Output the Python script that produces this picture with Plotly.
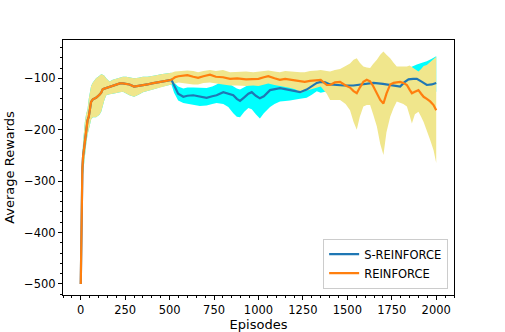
import plotly.graph_objects as go

# Shared early segment (both methods identical up to ~510 episodes)
EARLY_EP = [0, 2, 4, 6, 9, 13, 17, 23, 30, 38, 45, 52, 58, 68, 86, 105, 115, 124, 133, 143,
            162, 180, 199, 220, 237, 256, 274, 300, 325, 350, 375, 400, 425, 450, 480, 510]
EARLY_MEAN = [-500, -420, -360, -310, -275, -252, -240, -215, -195, -182, -175, -162, -146, -141,
              -138, -132, -128, -121, -120, -119, -117, -116, -113, -110, -110, -111, -112, -116,
              -115, -114, -112, -110, -108, -107, -105, -103]
EARLY_LO = [-500, -440, -390, -340, -305, -285, -270, -250, -230, -210, -200, -190, -180, -176,
            -176, -171, -165, -155, -142, -133, -131, -130, -129, -127, -126, -129, -133, -136,
            -132, -127, -125, -122, -120, -117, -114, -112]
EARLY_HI = [-500, -400, -330, -285, -250, -225, -205, -185, -170, -160, -140, -125, -115, -108,
            -100, -95, -92, -93, -95, -100, -106, -103, -101, -98, -97, -97, -98, -100,
            -99, -97, -97, -96, -94, -92, -91, -89]

# REINFORCE after the split
RF_EP = [530, 550, 575, 600, 633, 660, 690, 727, 760, 800, 840, 880, 930, 970, 1000, 1030, 1055,
         1090, 1120, 1150, 1180, 1210, 1235, 1260, 1290, 1330, 1350, 1384, 1403, 1430, 1459, 1490,
         1515, 1535, 1553, 1570, 1590, 1609, 1628, 1645, 1666, 1685, 1703, 1720, 1741, 1760, 1778,
         1797, 1815, 1835, 1850, 1863, 1880, 1900, 1915, 1929, 1947, 1966, 1985, 2000]
RF_MEAN = [-98, -96, -95, -94, -97, -99, -96, -93, -97, -98, -101, -100, -102, -101, -101, -98, -96,
           -100, -103, -101, -103, -104, -106, -107, -105, -104, -103, -113, -113, -108, -107, -114,
           -118, -125, -129, -118, -107, -103, -106, -115, -129, -142, -149, -130, -112, -109, -108,
           -107, -109, -113, -122, -129, -126, -123, -130, -136, -140, -145, -152, -162]
RF_LO = [-110, -108, -109, -110, -112, -112, -109, -108, -110, -112, -114, -114, -115, -114, -115,
         -112, -110, -113, -116, -117, -119, -122, -129, -125, -122, -118, -116, -130, -142, -142,
         -142, -150, -162, -185, -200, -175, -155, -152, -152, -170, -194, -228, -249, -205, -175,
         -158, -145, -148, -150, -155, -172, -188, -170, -165, -175, -185, -200, -220, -240, -265]
RF_HI = [-87, -86, -85, -85, -86, -88, -86, -84, -86, -84, -88, -87, -87, -88, -87, -86, -85, -87,
         -88, -86, -87, -87, -88, -88, -86, -85, -84, -86, -87, -84, -82, -76, -71, -64, -61, -70,
         -77, -79, -80, -72, -64, -54, -48, -54, -61, -70, -77, -77, -77, -77, -75, -78, -82, -87,
         -82, -76, -74, -68, -63, -58]

# S-REINFORCE after the split
SR_EP = [525, 548, 577, 600, 633, 670, 708, 740, 764, 802, 830, 858, 878, 896, 920, 943, 962, 985,
         1008, 1030, 1065, 1090, 1121, 1150, 1177, 1205, 1234, 1271, 1300, 1328, 1350, 1375, 1403,
         1440, 1480, 1534, 1580, 1609, 1647, 1700, 1750, 1797, 1820, 1844, 1870, 1891, 1920, 1947,
         1975, 2000]
SR_MEAN = [-115, -130, -136, -134, -133, -135, -138, -135, -133, -127, -130, -133, -140, -144, -137,
           -130, -127, -134, -139, -135, -123, -121, -119, -121, -123, -125, -127, -122, -115, -109,
           -107, -108, -112, -113, -114, -114, -112, -110, -109, -111, -113, -116, -108, -102, -101,
           -101, -107, -113, -112, -109]
SR_LO = [-128, -143, -148, -150, -152, -154, -153, -150, -148, -150, -156, -168, -175, -176, -165,
         -158, -160, -170, -178, -168, -156, -150, -145, -144, -143, -142, -140, -138, -132, -125,
         -128, -126, -130, -130, -132, -135, -130, -127, -130, -132, -135, -138, -132, -128, -126,
         -125, -126, -128, -128, -126]
SR_HI = [-108, -116, -120, -118, -118, -118, -119, -116, -112, -104, -110, -116, -120, -122, -118,
         -113, -112, -110, -112, -109, -105, -104, -104, -105, -106, -106, -104, -100, -96, -91,
         -92, -95, -97, -98, -98, -96, -95, -94, -92, -93, -92, -88, -84, -80, -76, -73, -70, -67,
         -62, -57]

X_TICKS = [0, 250, 500, 750, 1000, 1250, 1500, 1750, 2000]
Y_TICKS = [-500, -400, -300, -200, -100]

BLUE = "#1f77b4"
ORANGE = "#ff7f0e"
CYAN = "#00ffff"
KHAKI = "#f0e68c"

sr_ep = EARLY_EP + SR_EP
sr_mean = EARLY_MEAN + SR_MEAN
sr_lo = EARLY_LO + SR_LO
sr_hi = EARLY_HI + SR_HI
rf_ep = EARLY_EP + RF_EP
rf_mean = EARLY_MEAN + RF_MEAN
rf_lo = EARLY_LO + RF_LO
rf_hi = EARLY_HI + RF_HI

fig = go.Figure()
fig.add_trace(go.Scatter(x=sr_ep + sr_ep[::-1], y=sr_hi + sr_lo[::-1], fill="toself",
                         fillcolor=CYAN, line=dict(width=0), mode="lines",
                         showlegend=False, hoverinfo="skip"))
fig.add_trace(go.Scatter(x=rf_ep + rf_ep[::-1], y=rf_hi + rf_lo[::-1], fill="toself",
                         fillcolor=KHAKI, line=dict(width=0), mode="lines",
                         showlegend=False, hoverinfo="skip"))
fig.add_trace(go.Scatter(x=sr_ep, y=sr_mean, mode="lines", name="S-REINFORCE",
                         line=dict(color=BLUE, width=2.2)))
fig.add_trace(go.Scatter(x=rf_ep, y=rf_mean, mode="lines", name="REINFORCE",
                         line=dict(color=ORANGE, width=2.2)))

axis_common = dict(showline=True, mirror=True, linecolor="black", linewidth=1,
                   ticks="outside", ticklen=4, tickwidth=1, tickcolor="black",
                   showgrid=False, zeroline=False, automargin=False,
                   tickfont=dict(size=11.5, color="black"))

fig.update_layout(
    width=505, height=332,
    margin=dict(l=63, r=51, t=40, b=37),
    paper_bgcolor="white", plot_bgcolor="white",
    font=dict(family="DejaVu Sans", color="black"),
    xaxis=dict(range=[-100, 2100], tickvals=X_TICKS,
               minor=dict(dtick=50, tick0=0, ticks="outside", ticklen=2, tickcolor="black"),
               title=dict(text="Episodes", font=dict(size=13), standoff=2),
               **axis_common),
    yaxis=dict(range=[-521.6, -25.5], tickvals=Y_TICKS,
               minor=dict(dtick=20, tick0=0, ticks="outside", ticklen=2, tickcolor="black"),
               title=dict(text="Average Rewards", font=dict(size=13), standoff=6),
               **axis_common),
    legend=dict(x=0.985, y=0.025, xanchor="right", yanchor="bottom",
                bordercolor="#cccccc", borderwidth=1, bgcolor="rgba(255,255,255,0.8)",
                font=dict(size=11.5), itemwidth=30, tracegroupgap=0),
)

fig.write_html("out.html", config={"displayModeBar": False},
               post_script="document.body.style.margin='0';document.body.style.overflow='hidden';")
